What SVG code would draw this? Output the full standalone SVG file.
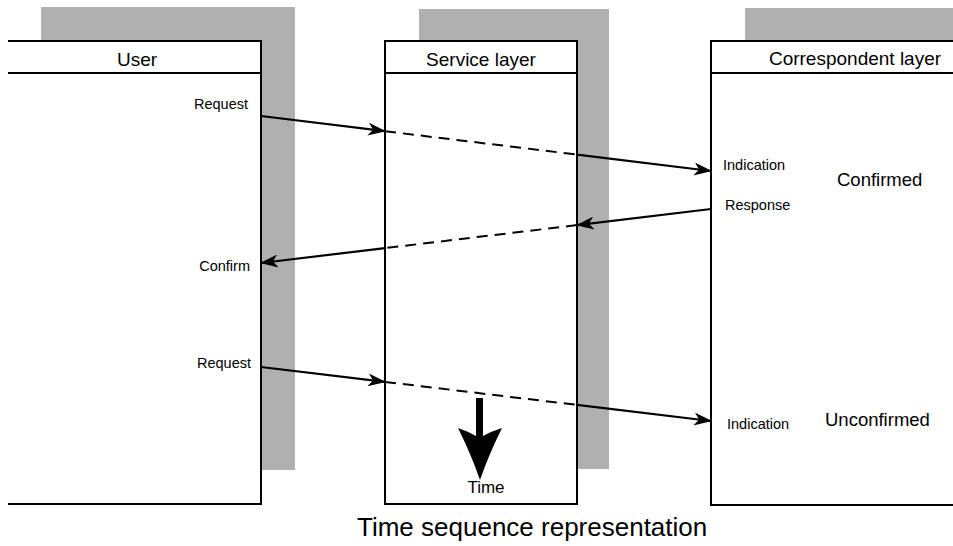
<svg xmlns="http://www.w3.org/2000/svg" width="953" height="546" viewBox="0 0 953 546">
  <style>
    .shadow { fill: #b0b0b0; stroke: none; }
    .frame { fill: #ffffff; stroke: #000000; stroke-width: 2; }
    .rule { stroke: #000000; stroke-width: 2; fill: none; }
    .head { font-family: "Liberation Sans", Arial, sans-serif; font-size: 19px; fill: #000000; }
    .lbl { font-family: "Liberation Sans", Arial, sans-serif; font-size: 14.5px; fill: #000000; }
    .mode { font-family: "Liberation Sans", Arial, sans-serif; font-size: 18.5px; fill: #000000; }
    .title { font-family: "Liberation Sans", Arial, sans-serif; font-size: 26px; fill: #000000; }
    .solid { stroke: #000000; stroke-width: 2.2; fill: none; }
    .dash { stroke: #000000; stroke-width: 2; fill: none; stroke-dasharray: 11 7; }
  </style>
  <defs>
    <marker id="arrow" viewBox="0 0 18 13" refX="17" refY="6.5" markerWidth="18" markerHeight="13" markerUnits="userSpaceOnUse" orient="auto">
      <path d="M0,0 L18,6.5 L0,13 L5,6.5 Z" fill="#000000"/>
    </marker>
  </defs>

  <rect width="953" height="546" fill="#ffffff"/>

  <!-- lifeline: user -->
  <g id="user">
    <rect class="shadow" x="41" y="7" width="254" height="463"/>
    <rect x="8" y="41" width="253" height="463" fill="#ffffff"/>
    <path class="rule" d="M8,41 H261 V504 H8"/>
    <line class="rule" x1="8" y1="73" x2="261" y2="73"/>
    <text class="head" x="137" y="66" text-anchor="middle">User</text>
  </g>

  <!-- lifeline: service layer -->
  <g id="service">
    <rect class="shadow" x="419" y="9" width="190" height="460"/>
    <rect class="frame" x="385" y="41" width="192" height="463"/>
    <line class="rule" x1="385" y1="73" x2="577" y2="73"/>
    <text class="head" x="481" y="66" text-anchor="middle">Service layer</text>
  </g>

  <!-- lifeline: correspondent layer -->
  <g id="correspondent">
    <rect class="shadow" x="745" y="8" width="210" height="60"/>
    <rect class="frame" x="711" y="41" width="250" height="464"/>
    <line class="rule" x1="711" y1="73" x2="953" y2="73"/>
    <text class="head" x="855" y="65" text-anchor="middle">Correspondent layer</text>
  </g>

  <!-- primitive labels -->
  <g id="labels">
    <text class="lbl" x="248" y="109" text-anchor="end">Request</text>
    <text class="lbl" x="250" y="271" text-anchor="end">Confirm</text>
    <text class="lbl" x="251" y="368" text-anchor="end">Request</text>
    <text class="lbl" x="723" y="170">Indication</text>
    <text class="lbl" x="725" y="210">Response</text>
    <text class="lbl" x="727" y="429">Indication</text>
    <text class="mode" x="837" y="186">Confirmed</text>
    <text class="mode" x="825" y="426">Unconfirmed</text>
  </g>

  <!-- message connectors -->
  <g id="connectors">
    <line class="solid" x1="261" y1="116" x2="385" y2="131.2" marker-end="url(#arrow)"/>
    <line class="dash" x1="385" y1="131.2" x2="577" y2="154.6"/>
    <line class="solid" x1="577" y1="154.6" x2="711" y2="171" marker-end="url(#arrow)"/>

    <line class="solid" x1="711" y1="209" x2="577" y2="225.1" marker-end="url(#arrow)"/>
    <line class="dash" x1="577" y1="225.1" x2="385" y2="248.1"/>
    <line class="solid" x1="385" y1="248.1" x2="261" y2="263" marker-end="url(#arrow)"/>

    <line class="solid" x1="261" y1="367" x2="385" y2="381.9" marker-end="url(#arrow)"/>
    <line class="dash" x1="385" y1="381.9" x2="577" y2="404.9"/>
    <line class="solid" x1="577" y1="404.9" x2="711" y2="421" marker-end="url(#arrow)"/>
  </g>

  <!-- time direction -->
  <g id="time">
    <path d="M476,398 H483 V436 Q492,431 502,428 Q489,454 480,480 Q471,454 458,428 Q467,431 476,436 Z" fill="#000000"/>
    <text class="lbl" x="486" y="493" text-anchor="middle" style="font-size:17px">Time</text>
  </g>

  <text class="title" x="357" y="536">Time sequence representation</text>
</svg>
